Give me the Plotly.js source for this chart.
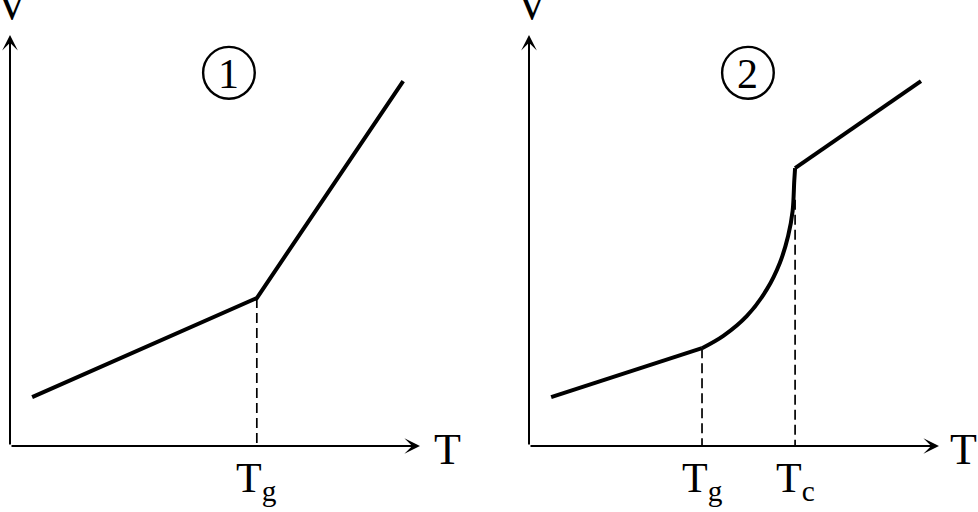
<!DOCTYPE html>
<html>
<head>
<meta charset="utf-8">
<script src="https://cdn.plot.ly/plotly-3.0.1.min.js"></script>
<style>html,body{margin:0;padding:0;background:#fff;}#chart{width:978px;height:512px;}</style>
</head>
<body>
<div id="chart"></div>
<script>
// Panel 1: glass transition only
const tempA = [0.54, 6.02, 9.59];
const volA = [1.19, 3.60, 8.88];
const tgA = 6.02, tgVolA = 3.60;

// Panel 2: glass transition then crystal melting
const tempB1 = [0.54, 4.22];
const volB1 = [1.19, 2.38];
const tempBc = [4.22, 4.74, 5.31, 5.80, 6.12, 6.32, 6.43, 6.47, 6.49];
const volBc = [2.38, 2.68, 3.16, 3.81, 4.46, 5.11, 5.72, 6.45, 6.76];
const tempB2 = [6.49, 9.56];
const volB2 = [6.76, 8.88];
const tgB = 4.22, tgVolB = 2.38;
const tcB = 6.49, tcVolB = 5.99;

const axisLabelX = 'T';
const axisLabelY = 'V';
const panelNums = ['1', '2'];

const FONT = 'Liberation Serif, Times New Roman, serif';
const solid = {color: '#000', width: 4};
const dashed = {color: '#000', width: 1.7, dash: '10px,5px'};

function tr(x, y, line, xa, ya, shape) {
  return {x: x, y: y, mode: 'lines', line: Object.assign({shape: shape || 'linear'}, line),
          xaxis: xa, yaxis: ya, hoverinfo: 'skip', showlegend: false};
}

const data = [
  tr([tgA, tgA], [tgVolA, 0], dashed, 'x', 'y'),
  tr(tempA, volA, solid, 'x', 'y'),
  tr([tgB, tgB], [tgVolB, 0], dashed, 'x2', 'y2'),
  tr([tcB, tcB], [tcVolB, 0], dashed, 'x2', 'y2'),
  tr(tempB1, volB1, solid, 'x2', 'y2'),
  tr(tempBc, volBc, solid, 'x2', 'y2', 'spline'),
  tr(tempB2, volB2, solid, 'x2', 'y2')
];

const W = 978, H = 512;
const px = v => v / W;
const py = v => 1 - v / H;

const axCommon = {range: [0, 10], visible: false, fixedrange: true};

function arrow(xr, yr, x, y) {
  return {xref: xr, yref: yr, axref: xr, ayref: yr, x: x, y: y, ax: 0, ay: 0,
          text: '', showarrow: true, arrowhead: 3, arrowsize: 1.3, arrowwidth: 2,
          arrowcolor: '#000', standoff: 0, startstandoff: 0};
}
function label(xr, x, ypx, txt, size, yanchor) {
  return {xref: xr, yref: 'paper', x: x, y: py(ypx), text: txt, showarrow: false,
          xanchor: 'center', yanchor: yanchor || 'middle',
          font: {family: FONT, size: size, color: '#000'}};
}
function plabel(xpx, ypx, txt, size) {
  return {xref: 'paper', yref: 'paper', x: px(xpx), y: py(ypx), text: txt, showarrow: false,
          xanchor: 'center', yanchor: 'middle', font: {family: FONT, size: size, color: '#000'}};
}

const annotations = [
  arrow('x', 'y', 10, 0), arrow('x', 'y', 0, 10),
  arrow('x2', 'y2', 10, 0), arrow('x2', 'y2', 0, 10),
  label('x', tgA, 481, 'T<sub>g</sub>', 42),
  label('x2', tgB, 481, 'T<sub>g</sub>', 42),
  label('x2', tcB, 481, 'T<sub>c</sub>', 42),
  plabel(447, 449, axisLabelX, 44),
  plabel(963, 449, axisLabelX, 44),
  plabel(12, 4, axisLabelY, 44),
  plabel(532, 4, axisLabelY, 44),
  label('x', 5.34, 74, panelNums[0], 42),
  label('x2', 5.34, 74, panelNums[1], 42)
];

const circ = (xr, yr) => ({type: 'circle', xref: xr, yref: yr, x0: 4.71, x1: 5.97, y0: 8.45, y1: 9.71,
                           line: {color: '#000', width: 2.4}});

const layout = {
  width: W, height: H,
  margin: {l: 0, r: 0, t: 0, b: 0},
  paper_bgcolor: '#fff', plot_bgcolor: '#fff',
  xaxis: Object.assign({domain: [px(10), px(420)], anchor: 'y'}, axCommon),
  yaxis: Object.assign({domain: [py(446), py(35)], anchor: 'x'}, axCommon),
  xaxis2: Object.assign({domain: [px(529), px(939)], anchor: 'y2'}, axCommon),
  yaxis2: Object.assign({domain: [py(446), py(35)], anchor: 'x2'}, axCommon),
  annotations: annotations,
  shapes: [circ('x', 'y'), circ('x2', 'y2')],
  showlegend: false
};

Plotly.newPlot('chart', data, layout, {displayModeBar: false, staticPlot: true});
</script>
</body>
</html>
